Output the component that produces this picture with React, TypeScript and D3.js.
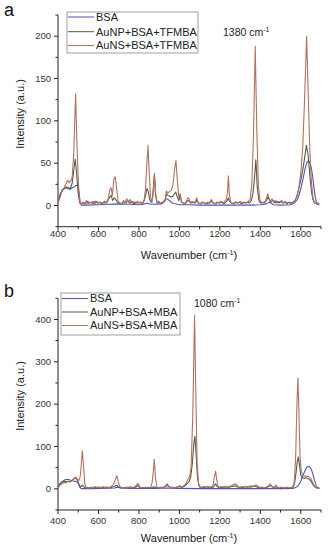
import React from "react";
import * as d3 from "d3";

// spectra: [wavenumber, intensity]
const tfmbaBSA: [number, number][] = [
  [400,3],[410,11],[420,17],[430,20],[440,21],[450,20],[460,19],[470,21],[480,22],[490,24],[498,23],[504,15],[510,3],[516,0.5],[540,0.5],[600,1],[650,1.5],[700,2],[750,1.5],[800,1],[830,2],[840,3],[850,2],[880,1.5],[910,2],[925,5],[935,8],[945,7],[955,5],[965,3],[980,2],[1000,1],[1050,1],[1100,0.5],[1200,0.5],[1300,0.5],[1360,0.5],[1400,1],[1430,2],[1442,4],[1452,3],[1465,1],[1500,0.5],[1550,1],[1570,3],[1585,8],[1598,18],[1610,30],[1620,42],[1630,51],[1638,53],[1646,50],[1654,42],[1662,28],[1670,12],[1678,3],[1686,1],[1692,1],
];

const tfmbaAuNP: [number, number][] = [
  [400,5],[410,13],[420,18],[430,20],[440,22],[450,21],[460,20],[470,26],[478,42],[485,55],[492,38],[500,14],[507,3],[515,2],[525,4],[535,2],[545,5],[555,3],[565,4],[575,2],[585,5],[595,3],[605,4],[615,2],[625,4],[635,3],[645,5],[655,10],[663,12],[670,6],[678,9],[686,7],[694,4],[705,3],[715,2],[725,5],[735,3],[745,6],[755,3],[765,5],[775,2],[785,4],[795,3],[805,4],[815,2],[825,5],[833,12],[840,20],[846,17],[852,8],[860,4],[868,10],[876,36],[882,13],[890,3],[900,4],[910,2],[920,4],[930,7],[936,14],[944,12],[952,11],[960,10],[968,11],[976,14],[982,16],[990,10],[997,6],[1004,12],[1010,4],[1020,3],[1030,2],[1040,6],[1048,5],[1058,3],[1068,4],[1078,3],[1086,6],[1095,3],[1105,2],[1115,4],[1125,3],[1135,2],[1145,3],[1158,5],[1168,3],[1180,2],[1190,4],[1200,3],[1210,4],[1220,2],[1230,4],[1237,6],[1242,9],[1248,5],[1256,3],[1266,2],[1276,4],[1286,3],[1296,4],[1306,2],[1316,4],[1326,3],[1336,4],[1346,3],[1356,6],[1364,15],[1371,32],[1378,54],[1385,22],[1392,7],[1400,3],[1410,4],[1420,3],[1430,6],[1437,10],[1444,7],[1452,4],[1462,6],[1472,3],[1482,5],[1492,3],[1502,5],[1512,3],[1522,4],[1532,2],[1542,4],[1552,3],[1562,4],[1572,6],[1582,12],[1592,22],[1602,32],[1612,45],[1620,58],[1628,71],[1636,60],[1644,38],[1652,18],[1660,7],[1668,3],[1678,2],[1690,2],
];

const tfmbaAuNS: [number, number][] = [
  [400,3],[410,10],[420,18],[430,21],[440,26],[447,30],[455,27],[463,29],[470,33],[478,62],[487,132],[495,62],[502,22],[508,4],[515,2],[525,3],[533,1],[540,6],[548,2],[556,4],[565,3],[575,5],[583,2],[592,5],[600,3],[610,4],[620,2],[630,5],[640,3],[648,7],[655,18],[662,21],[669,12],[676,31],[683,34],[690,20],[697,5],[706,3],[715,2],[724,6],[732,3],[740,8],[748,4],[756,7],[765,3],[774,5],[783,2],[792,5],[800,3],[810,4],[818,2],[826,7],[833,20],[839,48],[845,71],[851,38],[858,9],[865,4],[871,18],[877,38],[883,14],[890,3],[898,5],[906,2],[914,4],[922,3],[930,6],[936,17],[944,15],[952,17],[960,18],[968,24],[976,42],[983,53],[990,30],[997,10],[1004,14],[1010,5],[1018,3],[1026,2],[1034,5],[1041,9],[1048,8],[1055,3],[1063,5],[1072,3],[1080,6],[1086,9],[1093,3],[1102,2],[1110,4],[1120,3],[1130,2],[1140,4],[1150,3],[1158,7],[1165,4],[1175,2],[1185,4],[1195,3],[1205,5],[1215,3],[1225,5],[1233,8],[1238,16],[1242,35],[1247,14],[1253,4],[1262,3],[1272,2],[1282,4],[1292,3],[1302,5],[1312,2],[1322,4],[1332,3],[1342,5],[1350,8],[1358,25],[1366,80],[1375,188],[1383,85],[1391,22],[1399,6],[1407,3],[1416,4],[1425,5],[1432,10],[1437,14],[1443,9],[1450,5],[1458,8],[1466,4],[1474,6],[1482,3],[1490,5],[1498,4],[1506,6],[1514,3],[1522,5],[1530,3],[1540,4],[1550,2],[1560,4],[1570,5],[1580,10],[1590,20],[1600,38],[1610,70],[1618,120],[1629,200],[1637,130],[1644,70],[1652,30],[1660,10],[1668,3],[1676,2],[1684,3],[1692,2],
];

const mbaBSA: [number, number][] = [
  [400,4],[410,12],[420,17],[430,20],[440,22],[450,22],[460,21],[470,19],[480,18],[490,17],[498,15],[504,8],[510,2],[516,0.5],[560,0.5],[620,1],[680,2],[695,4],[710,2],[760,1],[820,1],[880,1],[940,2],[960,1.5],[1000,1],[1100,0.5],[1200,0.5],[1300,0.5],[1400,0.5],[1500,0.5],[1560,1],[1575,3],[1588,8],[1600,18],[1610,30],[1620,42],[1628,50],[1636,53],[1644,52],[1652,46],[1660,35],[1668,20],[1676,8],[1684,2],[1692,1],
];

const mbaAuNP: [number, number][] = [
  [400,5],[410,12],[420,16],[430,18],[440,17],[450,18],[460,17],[470,20],[480,24],[488,25],[496,20],[504,10],[512,4],[520,9],[526,6],[534,2],[545,3],[555,2],[565,4],[575,2],[585,4],[595,3],[605,4],[615,2],[625,4],[635,3],[645,4],[655,2],[665,4],[675,5],[685,7],[692,8],[700,4],[710,2],[720,3],[730,2],[740,4],[750,2],[760,4],[770,3],[780,3],[790,6],[797,8],[805,3],[815,2],[825,3],[835,2],[845,4],[855,2],[865,3],[875,5],[885,2],[895,3],[905,2],[915,3],[925,4],[935,7],[942,8],[950,4],[960,3],[970,2],[980,3],[990,4],[1000,6],[1010,3],[1020,5],[1030,8],[1040,13],[1048,17],[1056,28],[1064,60],[1072,110],[1077,124],[1083,80],[1089,30],[1096,8],[1104,3],[1115,4],[1125,3],[1135,5],[1145,3],[1155,4],[1165,3],[1172,7],[1179,12],[1186,6],[1194,3],[1205,4],[1215,3],[1225,5],[1235,3],[1245,4],[1255,5],[1265,6],[1275,7],[1285,5],[1295,3],[1305,4],[1315,3],[1325,5],[1335,4],[1345,5],[1355,4],[1365,6],[1375,6],[1385,4],[1395,3],[1405,3],[1415,2],[1425,3],[1435,4],[1445,6],[1452,8],[1460,4],[1470,3],[1478,5],[1486,3],[1495,2],[1505,3],[1515,2],[1525,3],[1535,2],[1545,3],[1555,2],[1563,5],[1570,15],[1577,40],[1583,65],[1588,75],[1594,55],[1600,32],[1608,26],[1616,25],[1624,26],[1632,25],[1640,23],[1648,20],[1656,14],[1664,7],[1672,3],[1680,2],[1692,2],
];

const mbaAuNS: [number, number][] = [
  [400,3],[410,8],[420,12],[430,15],[440,14],[450,18],[460,16],[470,20],[480,25],[488,28],[496,22],[504,20],[510,30],[515,55],[520,90],[526,58],[532,12],[540,3],[550,1],[560,4],[570,2],[580,5],[590,3],[600,4],[610,2],[620,5],[630,3],[640,4],[650,2],[660,5],[670,8],[678,14],[685,24],[691,31],[698,16],[706,5],[715,3],[725,2],[735,4],[745,3],[755,5],[765,2],[775,4],[783,6],[790,10],[796,13],[802,6],[810,3],[820,2],[830,4],[840,3],[850,2],[858,4],[865,14],[871,40],[876,70],[882,25],[889,4],[898,2],[908,4],[918,3],[928,5],[934,9],[940,12],[946,6],[955,3],[965,4],[975,2],[985,4],[995,5],[1002,8],[1010,4],[1018,6],[1026,9],[1034,14],[1042,22],[1050,28],[1058,50],[1066,170],[1075,410],[1082,200],[1088,60],[1095,12],[1102,4],[1110,3],[1120,5],[1130,4],[1140,6],[1150,3],[1160,4],[1167,10],[1173,28],[1179,42],[1185,20],[1192,5],[1200,3],[1210,5],[1220,4],[1230,6],[1240,3],[1250,6],[1260,8],[1268,10],[1276,12],[1284,9],[1292,5],[1300,3],[1310,5],[1320,4],[1330,6],[1340,5],[1350,7],[1360,6],[1370,8],[1380,9],[1390,5],[1400,3],[1410,4],[1420,2],[1430,4],[1440,7],[1448,12],[1455,6],[1463,3],[1470,4],[1477,9],[1484,4],[1492,2],[1500,4],[1510,3],[1520,2],[1530,4],[1540,3],[1550,2],[1560,5],[1568,15],[1575,80],[1581,200],[1586,262],[1591,180],[1596,80],[1602,42],[1610,33],[1618,30],[1626,30],[1634,29],[1642,28],[1650,24],[1658,16],[1666,8],[1674,3],[1682,2],[1692,2],
];

const xTicks = [400, 600, 800, 1000, 1200, 1400, 1600];
const xMinor = [500, 700, 900, 1100, 1300, 1500, 1700];
const yTicksA = [0, 50, 100, 150, 200];
const yMinorA = [-25, 25, 75, 125, 175, 225];
const yTicksB = [0, 100, 200, 300, 400];
const yMinorB = [-50, 50, 150, 250, 350, 450];

const namesA = ["BSA", "AuNP+BSA+TFMBA", "AuNS+BSA+TFMBA"];
const namesB = ["BSA", "AuNP+BSA+MBA", "AuNS+BSA+MBA"];
const colors = ["#5050c8", "#535c46", "#b07260"];

const FONT = "'Liberation Sans', Arial, sans-serif";

interface PanelProps {
  letter: string;
  series: [number, number][][];
  names: string[];
  yDomain: [number, number];
  yRange: [number, number];
  yTicks: number[];
  yMinor: number[];
  legend: { x: number; y: number; w: number; h: number; rows: number[] };
  note: { text: string; x: number; y: number };
  letterY: number;
  yTitleY: number;
  xLabelY: number;
  xTitleY: number;
}

const Panel: React.FC<PanelProps> = (p) => {
  const x = d3.scaleLinear().domain([400, 1700]).range([58, 321]);
  const y = d3.scaleLinear().domain(p.yDomain).range(p.yRange);
  const line = d3
    .line<[number, number]>()
    .x((d) => x(d[0]))
    .y((d) => y(d[1]))
    .curve(d3.curveLinear);
  const y0 = p.yRange[0];

  return (
    <g fontFamily={FONT}>
      <text x={4} y={p.letterY} fontSize={18} fill="#111">{p.letter}</text>

      {/* axes */}
      <line x1={58} x2={58} y1={p.yRange[1]} y2={y0} stroke="#222" strokeWidth={1} />
      <line x1={58} x2={321} y1={y0} y2={y0} stroke="#222" strokeWidth={1} />
      {xTicks.map((t) => (
        <g key={t}>
          <line x1={x(t)} x2={x(t)} y1={y0} y2={y0 + 4} stroke="#222" />
          <text x={x(t)} y={p.xLabelY} fontSize={9.5} textAnchor="middle" fill="#333">{t}</text>
        </g>
      ))}
      {xMinor.map((t) => (
        <line key={t} x1={x(t)} x2={x(t)} y1={y0} y2={y0 + 2.5} stroke="#222" />
      ))}
      {p.yTicks.map((t) => (
        <g key={t}>
          <line x1={54} x2={58} y1={y(t)} y2={y(t)} stroke="#222" />
          <text x={51} y={y(t) + 3.3} fontSize={9.5} textAnchor="end" fill="#333">{t}</text>
        </g>
      ))}
      {p.yMinor.map((t) => (
        <line key={t} x1={55.5} x2={58} y1={y(t)} y2={y(t)} stroke="#222" />
      ))}

      <text x={189} y={p.xTitleY} fontSize={11} textAnchor="middle" fill="#222">
        Wavenumber (cm<tspan dy={-4} fontSize={7}>-1</tspan><tspan dy={4}>)</tspan>
      </text>
      <text
        transform={`translate(24,${p.yTitleY}) rotate(-90)`}
        fontSize={11}
        textAnchor="middle"
        fill="#222"
      >
        Intensity (a.u.)
      </text>

      {p.series.map((s, i) => (
        <path key={i} d={line(s) ?? ""} fill="none" stroke={colors[i]} strokeWidth={1.1} strokeLinejoin="round" />
      ))}

      <text x={p.note.x} y={p.note.y} fontSize={10.5} fill="#222">
        {p.note.text} cm<tspan dy={-4} fontSize={7}>-1</tspan>
      </text>

      <rect x={p.legend.x} y={p.legend.y} width={p.legend.w} height={p.legend.h} fill="#fff" stroke="#888" strokeWidth={0.8} />
      {p.names.map((n, i) => (
        <g key={n}>
          <line
            x1={p.legend.x + 1}
            x2={p.legend.x + 27}
            y1={p.legend.rows[i]}
            y2={p.legend.rows[i]}
            stroke={colors[i]}
            strokeWidth={1}
          />
          <text x={p.legend.x + 29} y={p.legend.rows[i] + 3.9} fontSize={11} fill="#222">{n}</text>
        </g>
      ))}
    </g>
  );
};

export default function App() {
  return (
    <svg
      width={329}
      height={550}
      style={{ position: "absolute", left: 0, top: 0, background: "#fff" }}
    >
      <Panel
        letter="a"
        series={[tfmbaBSA, tfmbaAuNP, tfmbaAuNS]}
        names={namesA}
        yDomain={[-25, 225]}
        yRange={[226.7, 15]}
        yTicks={yTicksA}
        yMinor={yMinorA}
        legend={{ x: 67, y: 12, w: 131, h: 41, rows: [17, 31.7, 45.5] }}
        note={{ text: "1380", x: 223, y: 36 }}
        letterY={16}
        yTitleY={114}
        xLabelY={237}
        xTitleY={259}
      />
      <Panel
        letter="b"
        series={[mbaBSA, mbaAuNP, mbaAuNS]}
        names={namesB}
        yDomain={[-50, 450]}
        yRange={[510, 298.3]}
        yTicks={yTicksB}
        yMinor={yMinorB}
        legend={{ x: 61, y: 293, w: 119, h: 42, rows: [298.5, 312, 325.5] }}
        note={{ text: "1080", x: 194, y: 307 }}
        letterY={297}
        yTitleY={396}
        xLabelY={524}
        xTitleY={542}
      />
    </svg>
  );
}
